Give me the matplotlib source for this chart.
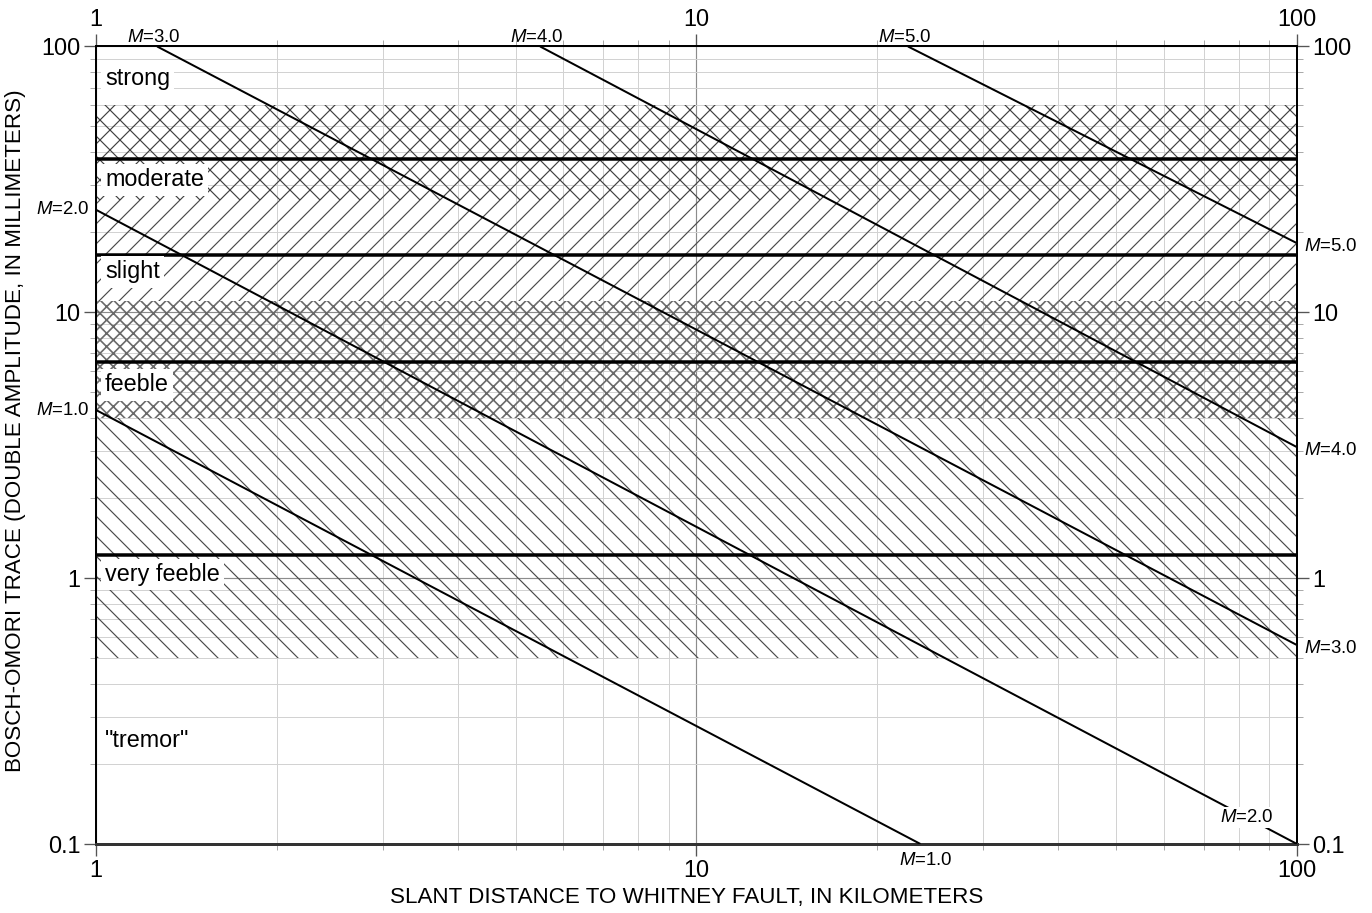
import numpy as np
import matplotlib
matplotlib.use('Agg')
import matplotlib.pyplot as plt
from matplotlib.ticker import FuncFormatter, NullFormatter, LogLocator

# Magnitude lines, endpoints (km, mm)
magnitudes = ['1.0', '2.0', '3.0', '4.0', '5.0']
m_x_start = [1.0, 1.0, 1.264, 5.49, 22.5]
m_y_start = [4.29, 24.3, 100.0, 100.0, 100.0]
m_x_end = [23.6, 100.0, 100.0, 100.0, 100.0]
m_y_end = [0.1, 0.1, 0.56, 3.11, 18.2]

# Intensity class boundaries (heavy lines)
class_bounds = [37.6, 16.4, 6.48, 1.22]

# Hatched bands
band_low = [26.5, 11.0, 4.0, 0.5]
band_high = [60.0, 26.5, 11.0, 4.0]
band_hatch = ['xx', '//', 'xxx', '\\\\']
band_color = ['#404040', '#4a4a4a', '#6a6a6a', '#4a4a4a']
band_hatch_lw = [0.7, 0.7, 1.0, 0.7]

# Intensity class names
class_names = ['strong', 'moderate', 'slight', 'feeble', 'very feeble', '"tremor"']
class_label_y = [76.0, 31.5, 14.2, 5.33, 1.03, 0.246]

DPI = 120
plt.rcParams['font.family'] = ['Liberation Sans', 'DejaVu Sans']
plt.rcParams['mathtext.fontset'] = 'custom'
plt.rcParams['mathtext.it'] = 'Liberation Sans:italic'
plt.rcParams['mathtext.rm'] = 'Liberation Sans'

fig = plt.figure(figsize=(1372 / DPI, 913 / DPI), dpi=DPI)
ax = fig.add_axes([0.070, 0.0756, 0.8753, 0.8735])
ax.set_xscale('log')
ax.set_yscale('log')
ax.set_xlim(1, 100)
ax.set_ylim(0.1, 100)

# grid
ax.grid(which='minor', color='#d2d2d2', lw=0.6, zorder=0)
ax.grid(which='major', color='#8c8c8c', lw=0.7, zorder=0)
ax.set_axisbelow(True)

# hatched bands
for lo, hi, h, c, hlw in zip(band_low, band_high, band_hatch, band_color, band_hatch_lw):
    plt.rcParams['hatch.linewidth'] = hlw
    ax.axhspan(lo, hi, facecolor='none', edgecolor=c, hatch=h, lw=0, zorder=1)

# class boundaries
for b in class_bounds:
    ax.axhline(b, color='black', lw=2.1, zorder=3)

# magnitude lines
for xs, ys, xe, ye in zip(m_x_start, m_y_start, m_x_end, m_y_end):
    ax.plot([xs, xe], [ys, ye], color='black', lw=1.2, zorder=3, solid_capstyle='butt')

mfs = 11.2
lab = [r'$M$=' + m for m in magnitudes]
# start labels
for i in range(5):
    if m_x_start[i] <= 1.0:
        ax.annotate(lab[i], (m_x_start[i], m_y_start[i]), xytext=(-4, 0),
                    textcoords='offset points', ha='right', va='center', fontsize=mfs,
                    annotation_clip=False)
    else:
        ax.annotate(lab[i], (m_x_start[i], m_y_start[i]), xytext=(-2, 0),
                    textcoords='offset points', ha='center', va='bottom', fontsize=mfs,
                    annotation_clip=False)
# end labels
for i in range(5):
    if m_y_end[i] > 0.1:
        ax.annotate(lab[i], (m_x_end[i], m_y_end[i]), xytext=(4, -2),
                    textcoords='offset points', ha='left', va='center', fontsize=mfs,
                    annotation_clip=False)
ax.annotate(lab[0], (m_x_end[0], m_y_end[0]), xytext=(3, -5),
            textcoords='offset points', ha='center', va='top', fontsize=mfs,
            annotation_clip=False)
# M=2.0 label sitting on its line near the lower right
lx = 82.5
ly = 10 ** np.interp(np.log10(lx), np.log10([m_x_start[1], m_x_end[1]]),
                     np.log10([m_y_start[1], m_y_end[1]]))
ax.text(lx, ly, lab[1], ha='center', va='center', fontsize=mfs, zorder=5,
        bbox=dict(facecolor='white', edgecolor='none', pad=1.0))

# class names
for name, y in zip(class_names, class_label_y):
    ax.text(1.035, y, name, ha='left', va='center', fontsize=14, zorder=5,
            bbox=dict(facecolor='white', edgecolor='none', pad=2.5))

# axes and ticks
fmt = FuncFormatter(lambda v, p: f'{v:g}')
ax.xaxis.set_major_formatter(fmt)
ax.yaxis.set_major_formatter(fmt)
ax.xaxis.set_minor_formatter(NullFormatter())
ax.yaxis.set_minor_formatter(NullFormatter())
ax.yaxis.set_minor_locator(LogLocator(base=10, subs=np.arange(2, 10)))
ax.xaxis.set_minor_locator(LogLocator(base=10, subs=np.arange(2, 10)))
ax.tick_params(which='both', direction='out', top=True, right=True,
               labeltop=True, labelright=True, labelsize=14, pad=2.0)
ax.tick_params(which='major', length=7.2, width=0.8, color='#555555')
ax.tick_params(which='minor', length=3.6, width=0.6, color='#aaaaaa')

for s in ['left', 'right', 'top']:
    ax.spines[s].set_linewidth(1.2)
ax.spines['bottom'].set_linewidth(1.8)
ax.spines['bottom'].set_color('#333333')

ax.set_xlabel('SLANT DISTANCE TO WHITNEY FAULT, IN KILOMETERS', fontsize=13.4)
ax.set_ylabel('BOSCH-OMORI TRACE (DOUBLE AMPLITUDE, IN MILLIMETERS)', fontsize=13.4)
ax.xaxis.set_label_coords(0.492, -0.054)
ax.yaxis.set_label_coords(-0.058, 0.518)

fig.savefig('out.png', dpi=DPI)
